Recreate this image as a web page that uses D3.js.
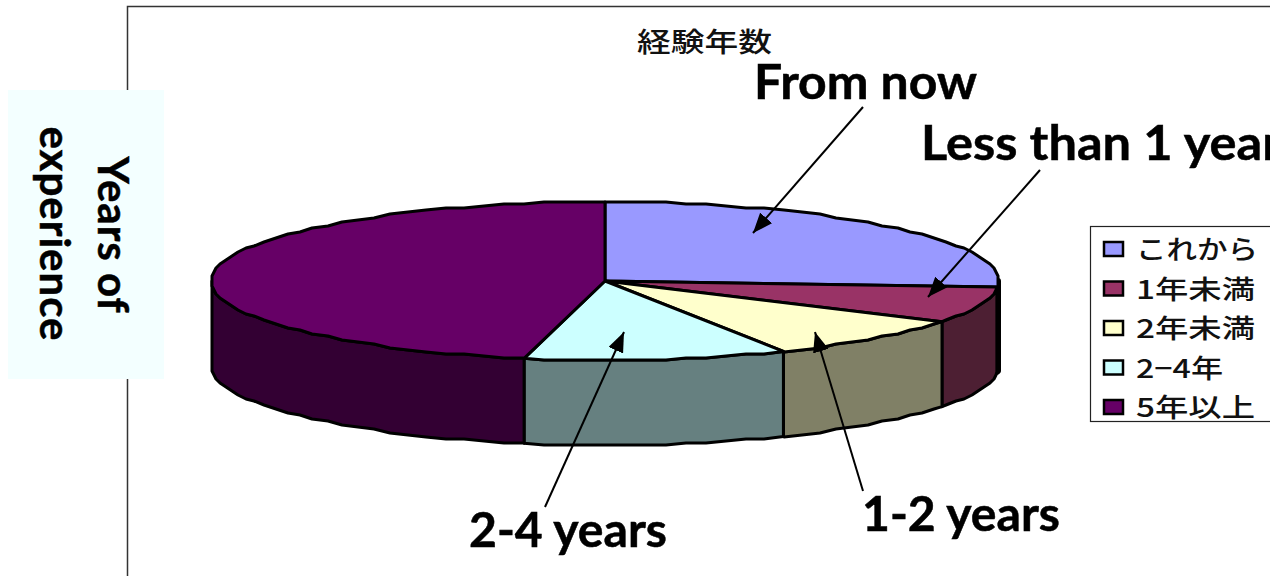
<!doctype html>
<html lang="en">
  <head>
    <meta charset="UTF-8" />
    <title>経験年数</title>
    <style>
      html, body {
        margin: 0;
        background: #fff;
        overflow: hidden;
      }
      svg {
        display: block;
      }
      .note {
        font-family: Lato, "Open Sans", sans-serif;
        font-weight: 700;
        fill: #000;
        stroke: #000;
        stroke-width: 0.5;
      }
      .ja {
        font-family: "Noto Sans CJK JP", sans-serif;
        font-weight: 500;
        fill: #111;
      }
    </style>
  </head>
  <body>
    <svg id="chart" width="1270" height="576"></svg>

    <script src="https://d3js.org/d3.v7.min.js"></script>
    <script>
      const categories = ["これから", "1年未満", "2年未満", "2−4年", "5年以上"];
      const shares = [26.2, 7.4, 8.9, 10.8, 46.7];
      const topColors = ["#9999ff", "#993366", "#ffffcc", "#ccffff", "#660066"];
      const sideColors = ["#4d4d80", "#4d1f33", "#808066", "#668080", "#330033"];
      const chartTitle = "経験年数";

      const svg = d3.select("#chart");

      // frame of the slide chart
      svg.append("path")
        .attr("d", "M127.5,576V6.5H1270")
        .attr("fill", "none")
        .attr("stroke", "#333")
        .attr("stroke-width", 1.5);

      // note box on the left
      svg.append("rect")
        .attr("x", 8).attr("y", 90)
        .attr("width", 156).attr("height", 289)
        .attr("fill", "#f3ffff");

      const sideNote = [
        { text: "Years of", x: 98, y: 235 },
        { text: "experience", x: 40, y: 234 },
      ];
      svg.selectAll(".side")
        .data(sideNote)
        .join("text")
        .attr("class", "note side")
        .attr("font-size", 42)
        .attr("letter-spacing", 1)
        .attr("text-anchor", "middle")
        .attr("transform", (d) => `translate(${d.x},${d.y}) rotate(90)`)
        .text((d) => d.text);

      svg.append("text")
        .attr("class", "ja")
        .attr("x", 637).attr("y", 52)
        .attr("font-size", 27)
        .attr("textLength", 135)
        .attr("lengthAdjust", "spacingAndGlyphs")
        .text(chartTitle);

      // pseudo 3D pie
      const cx = 605, cy = 281, rx = 393, ry = 79, depth = 85;
      const rough = 3 * Math.PI / 180;
      const grid = 2; // the source picture has a bumpy low-res outline

      const pie = d3.pie().sort(null).value((d) => d.share);
      const slices = pie(categories.map((name, i) => ({
        name,
        share: shares[i],
        top: topColors[i],
        side: sideColors[i],
      })));

      const snap = (v) => Math.round(v / grid) * grid;
      const px = (a) => cx + rx * Math.sin(a);
      const py = (a) => cy - ry * Math.cos(a);

      const rimAngles = (a0, a1) => {
        // keep the rim steps on a fixed angle grid so neighbours share them
        const first = Math.ceil(a0 / rough + 0.01) * rough;
        return [a0, ...d3.range(first, a1, rough), a1];
      };
      const rimPoint = (a, i, all) => {
        if (i === 0 || i === all.length - 1) return [px(a), py(a)];
        return [snap(px(a)), snap(py(a))];
      };

      const line = d3.line().x((d) => d[0]).y((d) => d[1]);

      // side walls, only the front half of the rim shows
      const frontA = Math.PI / 2, frontB = Math.PI * 1.5;
      const walls = slices
        .map((s) => ({
          data: s.data,
          a0: Math.max(s.startAngle, frontA),
          a1: Math.min(s.endAngle, frontB),
        }))
        .filter((w) => w.a1 > w.a0);

      svg.append("g")
        .selectAll("path")
        .data(walls)
        .join("path")
        .attr("d", (w) => {
          const upper = rimAngles(w.a0, w.a1).map(rimPoint);
          const lower = upper.slice().reverse().map((p) => [p[0], p[1] + depth]);
          return line(upper.concat(lower)) + "Z";
        })
        .attr("fill", (w) => (w.data.name === categories[0] ? "#000" : w.data.side))
        .attr("stroke", "#000")
        .attr("stroke-width", (w) => (w.data.name === categories[0] ? 6 : 3))
        .attr("stroke-linejoin", "round");

      // top faces
      svg.append("g")
        .selectAll("path")
        .data(slices)
        .join("path")
        .attr("d", (s) => {
          const rim = rimAngles(s.startAngle, s.endAngle).map(rimPoint);
          return line([[cx, cy]].concat(rim)) + "Z";
        })
        .attr("fill", (s) => s.data.top)
        .attr("stroke", "#000")
        .attr("stroke-width", 3)
        .attr("stroke-linejoin", "round");

      // legend
      const legendX = 1090.5, legendY = 226.5;
      svg.append("rect")
        .attr("x", legendX).attr("y", legendY)
        .attr("width", 185).attr("height", 195)
        .attr("fill", "#fff")
        .attr("stroke", "#222")
        .attr("stroke-width", 1.2);

      const legendScale = d3.scalePoint()
        .domain(categories)
        .range([249, 407]);
      const legendTextWidths = [122, 119, 119, 87, 119];

      const legend = svg.append("g")
        .selectAll("g")
        .data(slices)
        .join("g")
        .attr("transform", (s) => `translate(0,${legendScale(s.data.name)})`);

      legend.append("rect")
        .attr("x", 1104).attr("y", -7)
        .attr("width", 19).attr("height", 14)
        .attr("fill", (s) => s.data.top)
        .attr("stroke", "#000")
        .attr("stroke-width", 2.5);

      legend.append("text")
        .attr("class", "ja")
        .attr("x", 1136).attr("y", 10)
        .attr("font-size", 26)
        .attr("textLength", (s, i) => legendTextWidths[i])
        .attr("lengthAdjust", "spacingAndGlyphs")
        .text((s) => s.data.name);

      // english callouts with arrows
      const callouts = [
        { text: "From now", tx: 754, ty: 99, w: 223, x1: 863, y1: 107, x2: 753, y2: 233 },
        { text: "Less than 1 year", tx: 921, ty: 160, w: 360, x1: 1040, y1: 170, x2: 928, y2: 297 },
        { text: "2-4 years", tx: 469, ty: 547, w: 198, x1: 545, y1: 507, x2: 624, y2: 332 },
        { text: "1-2 years", tx: 862, ty: 531, w: 198, x1: 863, y1: 491, x2: 815, y2: 332 },
      ];

      svg.append("defs")
        .append("marker")
        .attr("id", "head")
        .attr("markerUnits", "userSpaceOnUse")
        .attr("viewBox", "0 0 20 16")
        .attr("refX", 20).attr("refY", 8)
        .attr("markerWidth", 20).attr("markerHeight", 16)
        .attr("orient", "auto")
        .append("path")
        .attr("d", "M0,0L20,8L0,16Z")
        .attr("fill", "#000");

      svg.append("g")
        .selectAll("line")
        .data(callouts)
        .join("line")
        .attr("x1", (d) => d.x1).attr("y1", (d) => d.y1)
        .attr("x2", (d) => d.x2).attr("y2", (d) => d.y2)
        .attr("stroke", "#000")
        .attr("stroke-width", 2)
        .attr("marker-end", "url(#head)");

      svg.selectAll(".callout")
        .data(callouts)
        .join("text")
        .attr("class", "note callout")
        .attr("x", (d) => d.tx).attr("y", (d) => d.ty)
        .attr("font-size", 48)
        .attr("textLength", (d) => d.w)
        .attr("lengthAdjust", "spacingAndGlyphs")
        .text((d) => d.text);
    </script>
  </body>
</html>
